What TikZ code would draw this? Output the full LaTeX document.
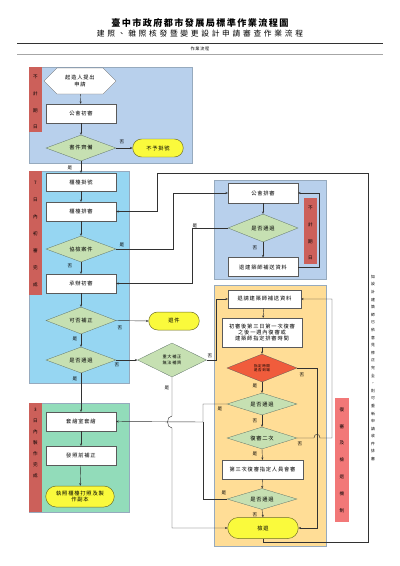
\documentclass[tikz,border=0pt]{standalone}
\usepackage{fontspec}
\setmainfont{Noto Sans CJK TC}[LetterSpace=15]
\usepackage{xcolor}
\usepackage{tikz}
\definecolor{regionblue}{RGB}{184,208,236}
\definecolor{regioncyan}{RGB}{150,214,242}
\definecolor{regiongreen}{RGB}{146,220,186}
\definecolor{regionyellow}{RGB}{255,221,150}
\definecolor{regionline}{RGB}{150,170,190}
\definecolor{stripred}{RGB}{204,96,90}
\definecolor{stripsoft}{RGB}{242,120,120}
\definecolor{decgreen}{RGB}{198,224,178}
\definecolor{decline}{RGB}{90,110,100}
\definecolor{termyellow}{RGB}{250,250,60}
\definecolor{termline}{RGB}{110,110,40}
\definecolor{alertred}{RGB}{240,92,60}
\definecolor{boxline}{RGB}{90,90,90}
\definecolor{linegray}{RGB}{50,50,50}
\usetikzlibrary{shapes.geometric, shapes.symbols, shapes.misc, arrows.meta}
\newcommand{\boxfont}{\fontsize{7.5}{10.5}\selectfont}

\begin{document}
\begin{tikzpicture}[
    x=0.05cm, y=-0.05cm,
    box/.style={rectangle, draw=boxline, fill=white, minimum width=3.5cm,
                minimum height=0.95cm, inner sep=1pt, align=center, font=\boxfont},
    decision/.style={diamond, aspect=2.5, draw=decline, fill=decgreen,
                minimum width=3.5cm, minimum height=1.3cm, inner sep=0.5pt,
                align=center, font=\boxfont},
    term/.style={rounded rectangle, draw=termline, fill=termyellow, line width=0.7pt,
                minimum width=2.6cm, minimum height=0.9cm, inner sep=1pt,
                align=center, font=\boxfont},
    region/.style={draw=regionline, line width=0.6pt},
    striptext/.style={align=center, inner sep=0pt, font=\fontsize{6.5}{24}\selectfont},
    lbl/.style={inner sep=0pt, font=\fontsize{6.5}{7}\selectfont},
    line/.style={draw=linegray, line width=0.6pt},
    arrow/.style={line, -{Stealth[length=3.5pt, width=3pt]}}
]
    \useasboundingbox (0,0) rectangle (400,566);
    \fill[white] (0,0) rectangle (400,566);

    % header
    \node[font=\fontsize{13}{15}\selectfont\bfseries] (title) at (200,23) {臺中市政府都市發展局標準作業流程圖};
    \node[font=\fontsize{11}{13}\selectfont\addfontfeatures{LetterSpace=35}] (subtitle) at (200,34) {建照、雜照核發暨變更設計申請審查作業流程};
    \draw[linegray, line width=0.6pt] (17,43) -- (383,43);
    \node[font=\fontsize{6}{7}\selectfont] (flowtag) at (200,49) {作業流程};
    \draw[gray!70, line width=1.2pt] (17,54) -- (383,54);

    % regions
    \filldraw[region, fill=regionblue] (29,67) rectangle (192,163);
    \filldraw[region, fill=regioncyan] (29,171) rectangle (129,383);
    \filldraw[region, fill=regiongreen] (29,403) rectangle (129,512);
    \filldraw[region, fill=regionblue] (214,180) rectangle (326,279);
    \filldraw[region, fill=regionyellow] (214,285) rectangle (326,546);

    % side strips
    \fill[stripred] (29,67) rectangle (42,132);
    \fill[stripred] (29,171) rectangle (42,295);
    \fill[stripred] (29,403) rectangle (42,512);
    \fill[stripred] (304,198) rectangle (317,264);
    \fill[stripsoft] (335,398) rectangle (349,522);
    \node[striptext] (tag1) at (35.5,102) {不\\計\\期\\日};
    \node[striptext] (tag2) at (35.5,234) {7\\日\\內\\初\\審\\完\\成};
    \node[striptext, font=\fontsize{6.5}{15.6}\selectfont] (tag3) at (35.5,443) {3\\日\\內\\製\\作\\完\\成};
    \node[striptext] (tag4) at (310.5,233) {不\\計\\期\\日};
    \node[striptext] (tag5) at (342,460) {復\\審\\及\\檢\\退\\機\\制};
    \node[striptext, font=\fontsize{5.5}{10.8}\selectfont] (note) at (373,368)
        {如\\設\\計\\建\\築\\師\\已\\依\\意\\見\\修\\正\\完\\全\\，\\則\\可\\重\\新\\申\\請\\收\\件\\排\\審};

    % left column
    \node[signal, signal to=west and east, draw=boxline, fill=white, minimum width=3.6cm,
          minimum height=1.3cm, inner sep=1pt, align=center, font=\boxfont] (start) at (80,81) {起造人提出\\申請};
    \node[box] (guildcheck) at (81,113.5) {公會初審};
    \node[decision] (docs) at (81,148) {書件齊備};
    \node[term] (deny) at (158,148) {不予掛號};
    \node[box, minimum height=0.9cm] (register) at (81,182) {櫃檯掛號};
    \node[box] (queue) at (81,211.5) {櫃檯排審};
    \node[decision] (assist) at (81,249) {協檢案件};
    \node[box] (officer) at (81,283.5) {承辦初審};
    \node[decision, minimum height=1.35cm] (fixable) at (81,320.5) {可否補正};
    \node[term] (returned) at (174,321) {退件};
    \node[decision] (passone) at (81,360) {是否通過};
    \node[decision, minimum width=3.45cm, minimum height=1.7cm,
          font=\fontsize{6}{8}\selectfont] (major) at (172,360) {重大補正\\無法補齊};
    \node[box] (plot) at (81,421.5) {套繪室套繪};
    \node[box] (prefix) at (81,455.5) {發照前補正};
    \node[term, minimum width=3.5cm, minimum height=1.05cm,
          font=\fontsize{7.5}{8.5}\selectfont] (issue) at (80,496.5) {執照櫃檯打照及製\\作副本};

    % guild review
    \node[box, minimum height=1cm] (guild) at (263,193) {公會排審};
    \node[decision, minimum height=1.4cm] (passtwo) at (263,228) {是否通過};
    \node[box] (back) at (263,267) {退建築師補送資料};

    % re-review
    \node[box, minimum width=3.65cm, minimum height=0.9cm] (notify) at (264.5,299) {退請建築師補送資料};
    \node[box, minimum width=4cm, minimum height=1.45cm, font=\fontsize{7.5}{8.8}\selectfont]
        (schedule) at (262,332.5) {初審後第三日第一次復審\\之後一週內復審或\\建築師指定排審時間};
    \node[decision, fill=alertred, draw=boxline, minimum height=1.4cm,
          font=\fontsize{5}{6}\selectfont] (alert) at (262,368) {指定時間\\是否到場};
    \node[decision, minimum height=1.1cm] (passa) at (262,404) {是否通過};
    \node[decision, minimum height=1.1cm] (twice) at (262,438) {復審二次};
    \node[box, minimum width=4.05cm] (third) at (262.5,469.5) {第三次復審指定人員會審};
    \node[decision, minimum height=1.05cm] (passc) at (262,499) {是否通過};
    \node[term, minimum width=3.6cm, minimum height=1.05cm] (reject) at (263,528) {檢退};

    % corner points
    \coordinate (a1) at (173,249);
    \coordinate (b1) at (319,267);
    \coordinate (b2) at (192,228);
    \coordinate (m1) at (216,360);
    \coordinate (j1) at (172,416);
    \coordinate (j2) at (172,428);
    \coordinate (m2) at (172,528);
    \coordinate (r1) at (317,368);
    \coordinate (r2) at (317,528);
    \coordinate (k1) at (314,438);
    \coordinate (k2) at (320,438);
    \coordinate (t1) at (332,438);
    \coordinate (tx) at (203,422);
    \coordinate (c1) at (368,542);
    \coordinate (c2) at (368,173);
    \coordinate (c3) at (157,173);

    % connectors
    \draw[arrow] (start) -- (guildcheck);
    \draw[arrow] (guildcheck) -- (docs);
    \draw[arrow] (docs.east) -- (deny.west);
    \draw[arrow] (docs.south) -- (register.north);
    \draw[arrow] (register) -- (queue);
    \draw[arrow] (queue) -- (assist);
    \draw[arrow] (assist.south) -- (officer.north);
    \draw[arrow] (assist.east) -- (a1) |- (guild.west);
    \draw[arrow] (officer) -- (fixable);
    \draw[arrow] (fixable.east) -- (returned.west);
    \draw[arrow] (fixable.south) -- (passone.north);
    \draw[arrow] (passone.east) -- (major.west);
    \draw[arrow] (passone.south) -- (plot.north);
    \draw[arrow] (plot) -- (prefix);
    \draw[arrow] (prefix) -- (issue);

    \draw[arrow] (guild) -- (passtwo);
    \draw[arrow] (passtwo.south) -- (back.north);
    \draw[arrow] (back.east) -- (b1) |- (guild.east);
    \draw[arrow] (passtwo.west) -- (b2) |- (officer.east);

    \draw[arrow] (major.east) -- (m1) |- (notify.west);
    \draw[arrow] (major.south) -- (j1) .. controls (166,416) and (166,428) .. (j2) -- (m2) -- (reject.west);
    \draw[arrow] (notify) -- (schedule);
    \draw[arrow] (schedule) -- (alert);
    \draw[arrow] (alert.east) -- (r1) -- (r2) -- (reject.east);
    \draw[arrow] (alert.south) -- (passa.north);
    \draw[arrow] (passa.south) -- (twice.north);
    \draw[arrow] (twice.south) -- (third.north);
    \draw[arrow] (third) -- (passc);
    \draw[arrow] (passc.south) -- (reject.north);
    \draw[arrow] (twice.east) -- (k1) .. controls (314,433) and (320,433) .. (k2) -- (t1) |- (notify.east);
    \draw[arrow] (passa.west) -| (tx) -- (plot.east);
    \draw[line] (passc.west) -| (tx);
    \draw[arrow] (reject.south) |- (c1) -- (c2) -- (c3) |- (queue.east);

    % yes / no labels
    \node[lbl] at (122,142) {否};
    \node[lbl] at (70,168) {是};
    \node[lbl] at (122,245) {是};
    \node[lbl] at (70,266) {否};
    \node[lbl] at (120,328) {否};
    \node[lbl] at (75,339) {是};
    \node[lbl] at (117,365) {否};
    \node[lbl] at (75,379) {是};
    \node[lbl] at (210,356) {否};
    \node[lbl] at (167,388) {是};
    \node[lbl] at (195,226) {是};
    \node[lbl] at (255,248) {否};
    \node[lbl] at (302,375) {否};
    \node[lbl] at (255,386) {是};
    \node[lbl] at (220,409) {是};
    \node[lbl] at (255,421) {否};
    \node[lbl] at (300,444) {否};
    \node[lbl] at (255,454) {是};
    \node[lbl] at (224,493) {是};
    \node[lbl] at (255,515) {否};
\end{tikzpicture}
\end{document}
